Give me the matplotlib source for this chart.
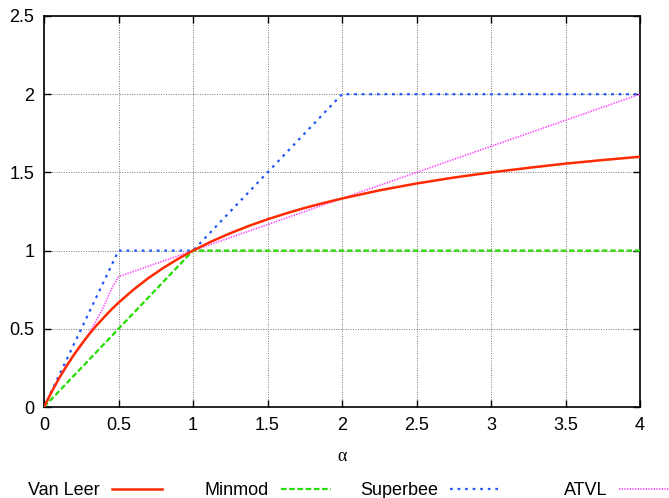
import matplotlib
matplotlib.use("Agg")
import matplotlib.pyplot as plt
from matplotlib.lines import Line2D

# limitadores de fluxo
van_leer_x = [0, 0.05, 0.1, 0.15, 0.2, 0.25, 0.3, 0.35, 0.4, 0.45, 0.5, 0.6,
              0.7, 0.8, 0.9, 1.0, 1.125, 1.25, 1.375, 1.5, 1.625, 1.75, 1.875,
              2.0, 2.25, 2.5, 2.75, 3.0, 3.25, 3.5, 3.75, 4.0]
van_leer_y = [0, 0.095, 0.182, 0.261, 0.333, 0.4, 0.462, 0.519, 0.571, 0.621,
              0.667, 0.75, 0.824, 0.889, 0.947, 1.0, 1.059, 1.111, 1.158, 1.2,
              1.238, 1.273, 1.304, 1.333, 1.385, 1.429, 1.467, 1.5, 1.529,
              1.556, 1.579, 1.6]

minmod_x = [0, 1, 4]
minmod_y = [0, 1, 1]

superbee_x = [0, 0.5, 1, 2, 4]
superbee_y = [0, 1, 1, 2, 2]

atvl_x = [0, 0.1, 0.2, 0.25, 0.3, 0.35, 0.4, 0.45, 0.48, 0.5, 1, 4]
atvl_y = [0, 0.18, 0.33, 0.39, 0.47, 0.55, 0.64, 0.75, 0.80, 0.833, 1.0, 2.0]

x_ticks = [0, 0.5, 1, 1.5, 2, 2.5, 3, 3.5, 4]
x_labels = ["0", "0.5", "1", "1.5", "2", "2.5", "3", "3.5", "4"]
y_ticks = [0, 0.5, 1, 1.5, 2, 2.5]
y_labels = ["0", "0.5", "1", "1.5", "2", "2.5"]

names = ["Van Leer", "Minmod", "Superbee", "ATVL"]
colors = ["#ff2a00", "#22dd00", "#2255ff", "#ff44ff"]

plt.rcParams["font.family"] = ["Liberation Sans", "DejaVu Sans"]

fig = plt.figure(figsize=(6.69, 4.98), dpi=100)
ax = fig.add_axes([0.0658, 0.1827, 0.8909, 0.7852])

ax.plot(van_leer_x, van_leer_y, color=colors[0], lw=1.8, zorder=4)
ax.plot(minmod_x, minmod_y, color=colors[1], lw=1.6, dashes=(2.5, 1.2), zorder=3)
ax.plot(superbee_x, superbee_y, color=colors[2], lw=1.6, dashes=(1.2, 2.2), zorder=3)
ax.plot(atvl_x, atvl_y, color=colors[3], lw=1.2, dashes=(0.8, 0.8), zorder=3)

ax.set_xlim(0, 4)
ax.set_ylim(0, 2.5)
ax.set_xticks(x_ticks)
ax.set_xticklabels(x_labels)
ax.set_yticks(y_ticks)
ax.set_yticklabels(y_labels)
ax.tick_params(direction="in", length=5, width=1, top=True, right=True,
               labelsize=13, pad=7)
ax.grid(True, color="#777777", ls=(0, (1, 1.5)), lw=0.7)
for s in ax.spines.values():
    s.set_linewidth(1.2)

ax.set_xlabel("α", family=["Liberation Serif", "DejaVu Serif"], fontsize=13,
              labelpad=10)

# legenda no estilo do gnuplot: texto à esquerda, amostra à direita
W, H = 669, 498
dash_styles = ["-", (0, (2.5, 1.2)), (0, (1.2, 2.2)), (0, (0.8, 0.8))]
widths = [1.8, 1.6, 1.6, 1.2]
for i, name in enumerate(names):
    text_end = 100 + 169 * i
    fig.text(text_end / W, 1 - 490 / H, name, ha="right", va="center",
             fontsize=13)
    x0 = (text_end + 12) / W
    x1 = (text_end + 62) / W
    fig.add_artist(Line2D([x0, x1], [1 - 489 / H] * 2, color=colors[i],
                          ls=dash_styles[i], lw=widths[i]))

fig.savefig("out.png", dpi=100)
